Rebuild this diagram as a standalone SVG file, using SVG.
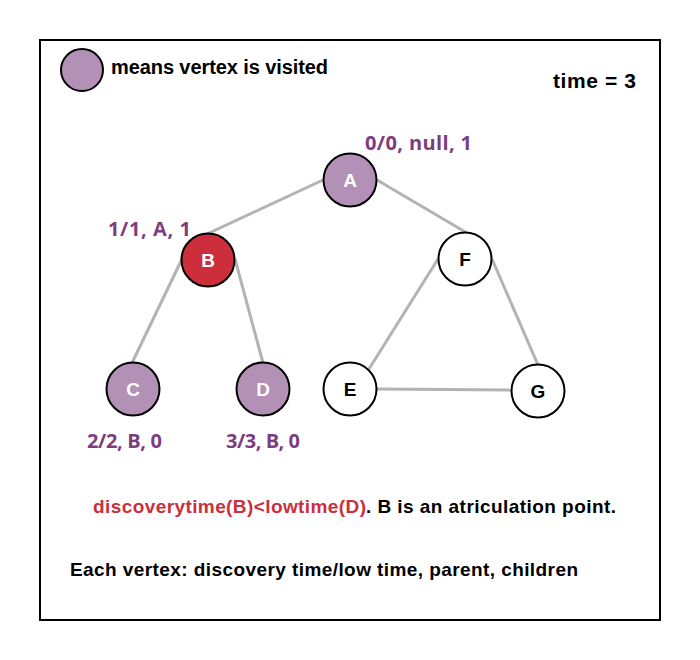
<svg xmlns="http://www.w3.org/2000/svg" width="700" height="660" viewBox="0 0 700 660">
<style>
text{font-family:"Liberation Sans",Arial,sans-serif;font-weight:bold}
.lbl{fill:#7D3C80;font-size:20px;font-family:"Open Sans","Liberation Sans",sans-serif}
.nl{font-size:19px;text-anchor:middle}
.v{fill:#B390B5;stroke:#000;stroke-width:2}
.u{fill:#fff;stroke:#000;stroke-width:2}
.e{stroke:#B3B3B3;stroke-width:3;fill:none}
</style>
<rect x="0" y="0" width="700" height="660" fill="#fff"/>
<rect x="40" y="40" width="620" height="580" fill="#fff" stroke="#000" stroke-width="2"/>
<g id="legend">
<circle cx="82" cy="70" r="21" class="v"/>
<text x="111" y="74" font-size="20" textLength="217">means vertex is visited</text>
</g>
<text x="553" y="88" font-size="21" textLength="83">time = 3</text>
<g id="edges">
<line class="e" x1="323" y1="180" x2="207" y2="234"/>
<line class="e" x1="377" y1="180" x2="467" y2="233"/>
<line class="e" x1="182" y1="259" x2="132" y2="363"/>
<line class="e" x1="235" y1="259" x2="263" y2="363"/>
<line class="e" x1="438" y1="259" x2="369" y2="369"/>
<line class="e" x1="492" y1="259" x2="538" y2="365"/>
<line class="e" x1="377" y1="389" x2="511" y2="390"/>
</g>
<g id="A"><circle cx="350" cy="180" r="26.5" class="v"/><text x="350" y="187" class="nl" fill="#fff">A</text></g>
<g id="B"><circle cx="208" cy="260" r="26.5" fill="#CC2E3B" stroke="#000" stroke-width="2"/><text x="208" y="267" class="nl" fill="#fff">B</text></g>
<g id="F"><circle cx="465" cy="259" r="26.5" class="u"/><text x="465" y="266" class="nl" fill="#000">F</text></g>
<g id="C"><circle cx="133" cy="389" r="26.5" class="v"/><text x="133" y="396" class="nl" fill="#fff">C</text></g>
<g id="D"><circle cx="263" cy="389" r="26.5" class="v"/><text x="263" y="396" class="nl" fill="#fff">D</text></g>
<g id="E"><circle cx="350" cy="389" r="26.5" class="u"/><text x="350" y="396" class="nl" fill="#000">E</text></g>
<g id="G"><circle cx="538" cy="391" r="26.5" class="u"/><text x="538" y="398" class="nl" fill="#000">G</text></g>
<text class="lbl" x="365" y="150" textLength="107">0/0, null, 1</text>
<text class="lbl" x="108" y="236" textLength="83">1/1, A, 1</text>
<text class="lbl" x="87" y="448" textLength="75">2/2, B, 0</text>
<text class="lbl" x="226" y="448" textLength="74">3/3, B, 0</text>
<text x="93" y="513" font-size="19" fill="#CC2E3B" textLength="273">discoverytime(B)&lt;lowtime(D)</text>
<text x="366" y="513" font-size="19" fill="#000" textLength="250">. B is an atriculation point.</text>
<text x="70" y="576" font-size="19" textLength="508">Each vertex: discovery time/low time, parent, children</text>
</svg>
